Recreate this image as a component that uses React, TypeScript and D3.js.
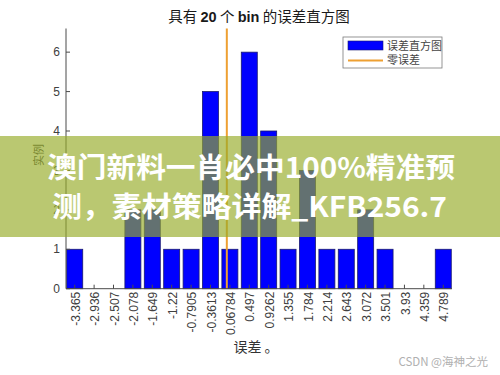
import React from "react";
import * as d3 from "d3";

const binCenters = [-3.365, -2.936, -2.507, -2.078, -1.649, -1.22, -0.7905, -0.3613, 0.06784, 0.497, 0.9262, 1.355, 1.784, 2.214, 2.643, 3.072, 3.501, 3.93, 4.359, 4.789];
const binLabels = ["-3.365", "-2.936", "-2.507", "-2.078", "-1.649", "-1.22", "-0.7905", "-0.3613", "0.06784", "0.497", "0.9262", "1.355", "1.784", "2.214", "2.643", "3.072", "3.501", "3.93", "4.359", "4.789"];
const counts = [1, 0, 0, 2, 2, 1, 1, 5, 1, 6, 4, 1, 3, 1, 1, 2, 1, 0, 0, 1];
const yTicks = [0, 1, 2, 3, 4, 5, 6];
const zeroError = 0;

const W = 500;
const H = 375;
const left = 66;
const right = 452;
const top = 28.5;
const bottom = 288.7;

export default function App() {
  const bw = (binCenters[binCenters.length - 1] - binCenters[0]) / (binCenters.length - 1);
  const x = d3
    .scaleLinear()
    .domain([binCenters[0] - 0.45 * bw, binCenters[binCenters.length - 1] + 0.45 * bw])
    .range([left, right]);
  const y = d3.scaleLinear().domain([0, 6.6]).range([bottom, top]);
  const barW = (x(bw) - x(0)) * 0.825;
  const axisColor = "#4a4a4a";
  const numFont = "'Liberation Sans', Arial, sans-serif";
  const cjk = "'Noto Sans CJK SC', 'Noto Sans', sans-serif";

  return (
    <svg width={W} height={H} style={{ position: "absolute", left: 0, top: 0, background: "#fff" }}>
      <rect x={0} y={0} width={W} height={H} fill="#fff" />
      {/* title */}
      <text x={259} y={22} textAnchor="middle" fontSize={14.5} fill="#1a1a1a" fontFamily={cjk}>
        <tspan>具有 </tspan>
        <tspan fontWeight="bold" fontFamily={numFont}>20</tspan>
        <tspan> 个 </tspan>
        <tspan fontWeight="bold" fontFamily={numFont}>bin</tspan>
        <tspan> 的误差直方图</tspan>
      </text>

      {/* bars */}
      {counts.map((c, i) =>
        c > 0 ? (
          <rect
            key={i}
            x={x(binCenters[i]) - barW / 2}
            y={y(c)}
            width={barW}
            height={y(0) - y(c)}
            fill="#0000ff"
            stroke="#1a1a6e"
            strokeWidth={0.8}
          />
        ) : null
      )}

      {/* zero error line */}
      <line x1={x(zeroError)} x2={x(zeroError)} y1={top} y2={bottom} stroke="#eea032" strokeWidth={2} />

      {/* axes */}
      <line x1={left} x2={left} y1={top} y2={bottom} stroke={axisColor} strokeWidth={1} />
      <line x1={left} x2={right} y1={bottom} y2={bottom} stroke={axisColor} strokeWidth={1} />
      {yTicks.map((t) => (
        <g key={t}>
          <line x1={left} x2={left + 4} y1={y(t)} y2={y(t)} stroke={axisColor} />
          <text x={60} y={y(t)} dy="0.35em" textAnchor="end" fontSize={12} fill="#404040" fontFamily={numFont}>
            {t}
          </text>
        </g>
      ))}
      {binCenters.map((c, i) => (
        <g key={i}>
          <line x1={x(c)} x2={x(c)} y1={bottom} y2={bottom - 4} stroke={axisColor} />
          <text
            transform={`translate(${x(c) + 1},${bottom + 3}) rotate(-90)`}
            textAnchor="end"
            dy="0.35em"
            fontSize={12}
            fill="#404040"
            fontFamily={numFont}
          >
            {binLabels[i]}
          </text>
        </g>
      ))}

      {/* axis labels */}
      <text x={256} y={352} textAnchor="middle" fontSize={14} fill="#333" fontFamily={cjk}>
        误差 。
      </text>
      <text transform="translate(39,155) rotate(-90)" textAnchor="middle" dy="0.35em" fontSize={11} fill="#404040" fontFamily={cjk}>
        实例
      </text>

      {/* legend */}
      <rect x={343} y={37} width={99} height={31} fill="#fff" stroke="#7a7a7a" strokeWidth={0.8} />
      <rect x={348} y={41} width={35} height={9} fill="#0000ff" stroke="#1a1a6e" strokeWidth={0.6} />
      <text x={387} y={46} dy="0.35em" fontSize={11} fill="#444" fontFamily={cjk}>
        误差直方图
      </text>
      <line x1={348} x2={383} y1={60.5} y2={60.5} stroke="#eea032" strokeWidth={2} />
      <text x={387} y={60.5} dy="0.35em" fontSize={11} fill="#444" fontFamily={cjk}>
        零误差
      </text>

      {/* overlay band */}
      <rect x={0} y={136} width={W} height={101} fill="rgb(150,172,40)" fillOpacity={0.66} />
      <text
        x={47}
        y={178}
        fontSize={28}
        fontWeight="bold"
        fill="#fff"
        fontFamily={cjk}
        textLength={408}
        lengthAdjust="spacingAndGlyphs"
      >
        澳门新料一肖必中100%精准预
      </text>
      <text
        x={52}
        y={217}
        fontSize={28}
        fontWeight="bold"
        fill="#fff"
        fontFamily={cjk}
        textLength={395}
        lengthAdjust="spacingAndGlyphs"
      >
        测，素材策略详解_KFB256.7
      </text>

      {/* watermark */}
      <text x={488} y={362} dy="0.35em" textAnchor="end" fontSize={11.5} fill="#b0b0b0" fontFamily={cjk}>
        CSDN @海神之光
      </text>
    </svg>
  );
}
